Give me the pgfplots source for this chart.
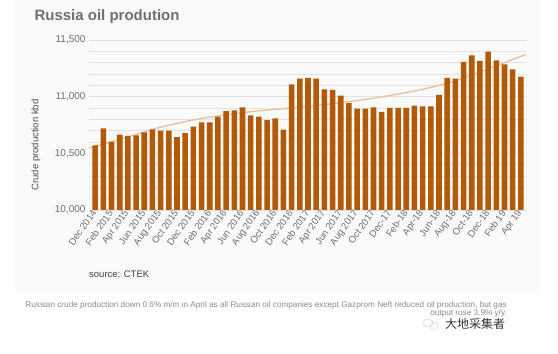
\documentclass[border=0pt]{standalone}
\usepackage{pgfplots}
\pgfplotsset{compat=1.18}
\usepackage{fontspec}
\setmainfont{Liberation Sans}
\newfontfamily\cjk{Noto Sans CJK SC}
\definecolor{barc}{RGB}{179,90,8}
\definecolor{trendc}{RGB}{232,192,152}
\definecolor{gridc}{RGB}{226,226,226}
\definecolor{txt}{RGB}{110,110,110}
\definecolor{titlec}{RGB}{112,112,112}
\begin{document}
\begin{tikzpicture}
\path[use as bounding box, fill=white] (0,0) rectangle (558bp,354bp);
\fill[black!2] (15bp,61bp) rectangle (540bp,354bp);
\begin{axis}[
  at={(89bp,144bp)}, anchor=south west,
  scale only axis, width=438bp, height=170bp,
  xmin=-0.75, xmax=52.75, ymin=10000, ymax=11500,
  axis line style={draw=none},
  xtick={0,2,...,52},
  xticklabels={Dec 2014, Feb 2015, Apr 2015, Jun 2015, Aug 2015, Oct 2015, Dec 2015, Feb 2016, Apr 2016, Jun 2016, Aug 2016, Oct 2016, Dec 2016, Feb 2017, Apr 2017, Jun 2017, Aug 2017, Oct 2017, Dec-17, Feb-18, Apr-18, Jun-18, Aug-18, Oct-18, Dec-18, Feb 19, Apr 19},
  xticklabel style={rotate=55, anchor=east, font=\fontsize{9.5bp}{11bp}\selectfont, text=txt, inner sep=1.5bp},
  ytick={10000,10500,11000,11500},
  minor ytick={10100,10200,...,11400},
  ymajorgrids, yminorgrids,
  major grid style={gridc, line width=0.8bp},
  minor grid style={gridc, line width=0.8bp},
  tick style={draw=none},
  yticklabel style={font=\fontsize{10bp}{12bp}\selectfont, text=txt},
  /pgf/number format/1000 sep={,},
  /pgf/number format/assume math mode=true,
  scaled y ticks=false,
  clip=false,
]
\addplot[trendc, line width=1.3bp, smooth, no marks] coordinates {
(-0.75,10545) (4,10645) (8,10730) (12,10795) (16,10840) (20,10875) (24,10900)
(28,10930) (32,10965) (36,11010) (40,11065) (44,11140) (48,11245) (52.6,11372)
};
\addplot[ybar, bar width=5.6bp, fill=barc, draw=none] coordinates {
(0,10571) (1,10720) (2,10600) (3,10665) (4,10653) (5,10659) (6,10685) (7,10712)
(8,10700) (9,10700) (10,10644) (11,10679) (12,10735) (13,10773) (14,10773) (15,10823)
(16,10873) (17,10879) (18,10906) (19,10835) (20,10823) (21,10794) (22,10809) (23,10709)
(24,11109) (25,11159) (26,11165) (27,11159) (28,11065) (29,11059) (30,11009) (31,10944)
(32,10894) (33,10894) (34,10906) (35,10865) (36,10900) (37,10900) (38,10900) (39,10921)
(40,10915) (41,10915) (42,11015) (43,11165) (44,11159) (45,11306) (46,11365) (47,11315)
(48,11397) (49,11321) (50,11285) (51,11241) (52,11176)
};
\end{axis}
\node[anchor=west, font=\bfseries\fontsize{15bp}{18bp}\selectfont, text=titlec] at (31bp,337bp) {Russia oil prodution};
\node[rotate=90, font=\fontsize{9.5bp}{11bp}\selectfont, text=black!70] at (36bp,209bp) {Crude production kbd};
\node[anchor=west, font=\fontsize{9.5bp}{11bp}\selectfont, text=black!75, inner sep=0pt] at (89bp,80bp) {source: CTEK};
\node[anchor=base east, font=\fontsize{8.2bp}{9bp}\selectfont, text=black!45, inner sep=0pt] at (507bp,46bp) {Russian crude production down 0.6\% m/m in April as all Russian oil companies except Gazprom Neft reduced oil production, but gas};
\node[anchor=base east, font=\fontsize{8.2bp}{9bp}\selectfont, text=black!45, inner sep=0pt] at (507bp,38.5bp) {output rose 3.9\% y/y.};
\draw[black!40, line width=0.5bp, densely dotted] (428bp,31bp) ellipse (5bp and 4bp);
\draw[black!40, line width=0.5bp, densely dotted] (434bp,28bp) ellipse (4bp and 3.5bp);
\node[anchor=base west, font=\cjk\fontsize{12bp}{12bp}\selectfont, text=black!80, inner sep=0pt] at (445bp,26bp) {大地采集者};
\end{tikzpicture}
\end{document}
